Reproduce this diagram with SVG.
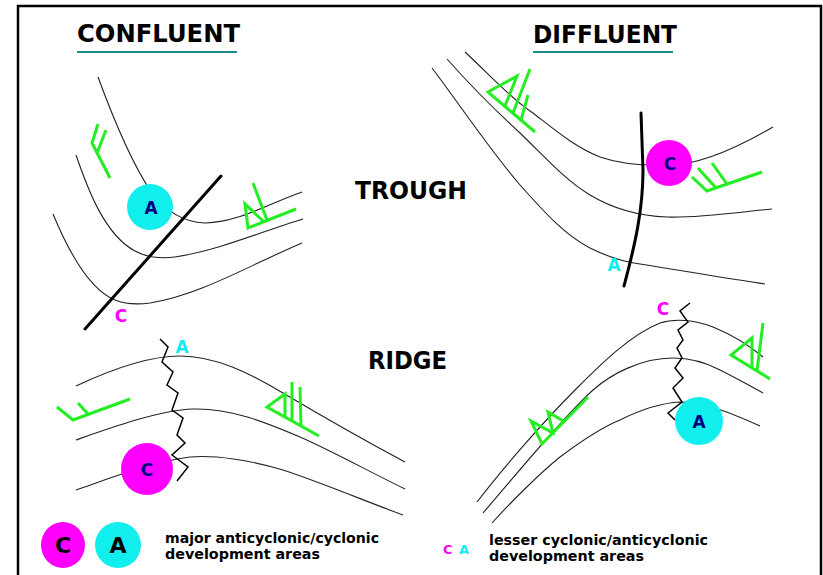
<svg xmlns="http://www.w3.org/2000/svg" width="823" height="575" viewBox="0 0 823 575">
<style>
.t{font-family:"DejaVu Sans","Liberation Sans",sans-serif;font-weight:bold}
.title{font-size:24px;fill:#000}
.iso{fill:none;stroke:#222;stroke-width:1.1}
.axis{fill:none;stroke:#000;stroke-width:3;stroke-linecap:round}
.zig{fill:none;stroke:#000;stroke-width:1.5;stroke-linejoin:miter}
.barb{fill:none;stroke:#22EE22;stroke-width:3;stroke-linejoin:miter;stroke-linecap:butt}
.ul{stroke:#1A8A8A;stroke-width:2}
.cy{fill:#11EEEE}
.mg{fill:#FF00FF}
.ctext{font-size:17px;fill:#000080;text-anchor:middle}
.small{font-size:17px;text-anchor:middle}
.leg{font-size:14px;fill:#000}
</style>
<rect x="18" y="6" width="803" height="620" fill="#fff" stroke="#000" stroke-width="2.5"/>

<g id="headings">
<text class="t title" x="77" y="42" textLength="163" lengthAdjust="spacingAndGlyphs">CONFLUENT</text>
<line class="ul" x1="77" y1="52" x2="237" y2="52"/>
<text class="t title" x="533" y="43" textLength="144" lengthAdjust="spacingAndGlyphs">DIFFLUENT</text>
<line class="ul" x1="533" y1="52" x2="673" y2="52"/>
<text class="t title" x="355" y="199" textLength="112" lengthAdjust="spacingAndGlyphs">TROUGH</text>
<text class="t title" x="368" y="369" textLength="79" lengthAdjust="spacingAndGlyphs">RIDGE</text>
</g>

<g id="connectors">
<!-- confluent trough isobars -->
<path class="iso" d="M98,77 C112,115 130,160 150,190 C162,207 180,222 205,223 C240,222 270,203 302,192"/>
<path class="iso" d="M76,155 C88,190 105,235 135,251 C148,258 160,259 175,257 C220,250 260,232 303,219"/>
<path class="iso" d="M53,214 C70,255 90,290 115,300 C125,304 135,305 150,303 C200,295 250,265 302,243"/>
<path class="axis" d="M85,329 L221,176"/>
<!-- diffluent trough isobars -->
<path class="iso" d="M465,52 C490,75 510,98 533,113 C555,130 575,147 600,157 C620,164 640,166 669,165 C695,165 730,152 773,127"/>
<path class="iso" d="M447,59 C470,85 495,110 520,133 C545,157 565,180 590,195 C615,210 640,216 667,217 C700,218 740,212 772,209"/>
<path class="iso" d="M432,68 C460,105 490,150 520,185 C545,213 565,235 590,248 C610,258 625,262 640,264 C690,272 730,279 765,284"/>
<path class="axis" d="M641,113 L643,170 C643,210 635,245 624,286"/>
<!-- confluent ridge isobars -->
<path class="iso" d="M76,386 C110,370 150,356 180,356 C215,356 250,373 283,393 C315,412 360,438 405,462"/>
<path class="iso" d="M76,440 C110,428 160,410 193,409 C230,408 265,422 300,437 C330,450 370,472 405,489"/>
<path class="iso" d="M76,490 C100,482 150,462 190,457 C215,455 250,460 283,470 C320,482 370,503 403,515"/>
<polyline class="zig" points="160,339 168,347 162,362 173,372 167,385 178,393 172,410 183,418 177,435 185,443 172,455 188,467 177,481"/>
<!-- diffluent ridge isobars -->
<path class="iso" d="M477,502 C500,472 540,425 577,388 C600,365 630,335 660,323 C675,318 695,320 713,327 C735,336 750,346 763,357"/>
<path class="iso" d="M483,513 C505,488 560,420 593,390 C610,375 640,358 673,358 C690,358 705,362 720,370 C740,380 750,386 763,393"/>
<path class="iso" d="M492,523 C510,503 540,473 560,457 C580,442 600,428 620,420 C640,410 660,403 680,402 C700,402 720,408 760,426"/>
<polyline class="zig" points="690,303 680,311 688,322 678,330 683,340 677,348 682,358 675,368 683,378 673,388 682,402 668,413 675,420"/>
</g>

<g id="wind-barbs">
<path class="barb" d="M110,178 L92,143 L98,124 M97,153 L106,130"/>
<path class="barb" d="M296,209 L248,228 L245,204 L263,221 M267,220 L253,183"/>
<path class="barb" d="M535,132 L488,92 L517,76 L505,106 M513,113 L530,69 M521,120 L528,95"/>
<path class="barb" d="M762,172 L707,191 L692,177 M716,188 L698,168 M727,184 L712,163"/>
<path class="barb" d="M130,399 L73,420 L57,407 M88,414 L78,403"/>
<path class="barb" d="M319,436 L267,407 L285,394 L285,417 M292,382 L292,421 M300,387 L301,426"/>
<path class="barb" d="M588,397 L542,444 L531,421 L553,433 L548,412 L565,422"/>
<path class="barb" d="M770,379 L731,355 L752,338 L752,368 M763,323 L757,371"/>
</g>

<g id="trough-confluent-A">
<circle class="cy" cx="150" cy="207" r="23"/>
<text class="t ctext" x="151" y="214">A</text>
</g>
<g id="trough-confluent-c">
<text class="t small" x="121" y="322" fill="#FF00FF">C</text>
</g>
<g id="trough-diffluent-C">
<circle class="mg" cx="669" cy="163" r="23"/>
<text class="t ctext" x="670" y="170">C</text>
</g>
<g id="trough-diffluent-a">
<text class="t small" x="614" y="271" fill="#11EEEE">A</text>
</g>
<g id="ridge-confluent-C">
<circle class="mg" cx="147" cy="469" r="26"/>
<text class="t ctext" x="147" y="476">C</text>
</g>
<g id="ridge-confluent-a">
<text class="t small" x="182" y="353" fill="#11EEEE">A</text>
</g>
<g id="ridge-diffluent-A">
<circle class="cy" cx="699" cy="421" r="24"/>
<text class="t ctext" x="699" y="428">A</text>
</g>
<g id="ridge-diffluent-c">
<text class="t small" x="663" y="315" fill="#FF00FF">C</text>
</g>

<g id="legend">
<ellipse class="mg" cx="63" cy="545" rx="22" ry="23"/>
<text class="t" x="63" y="553" font-size="22" text-anchor="middle" fill="#000">C</text>
<circle class="cy" cx="118" cy="545" r="23"/>
<text class="t" x="118" y="553" font-size="22" text-anchor="middle" fill="#000">A</text>
<text class="t leg" x="165" y="543" textLength="214" lengthAdjust="spacingAndGlyphs">major anticyclonic/cyclonic</text>
<text class="t leg" x="165" y="559" textLength="155" lengthAdjust="spacingAndGlyphs">development areas</text>
<text class="t" x="443" y="554" font-size="13" fill="#FF00FF">C</text>
<text class="t" x="459" y="554" font-size="13" fill="#11EEEE">A</text>
<text class="t leg" x="489" y="545" textLength="219" lengthAdjust="spacingAndGlyphs">lesser cyclonic/anticyclonic</text>
<text class="t leg" x="489" y="561" textLength="155" lengthAdjust="spacingAndGlyphs">development areas</text>
</g>
</svg>
